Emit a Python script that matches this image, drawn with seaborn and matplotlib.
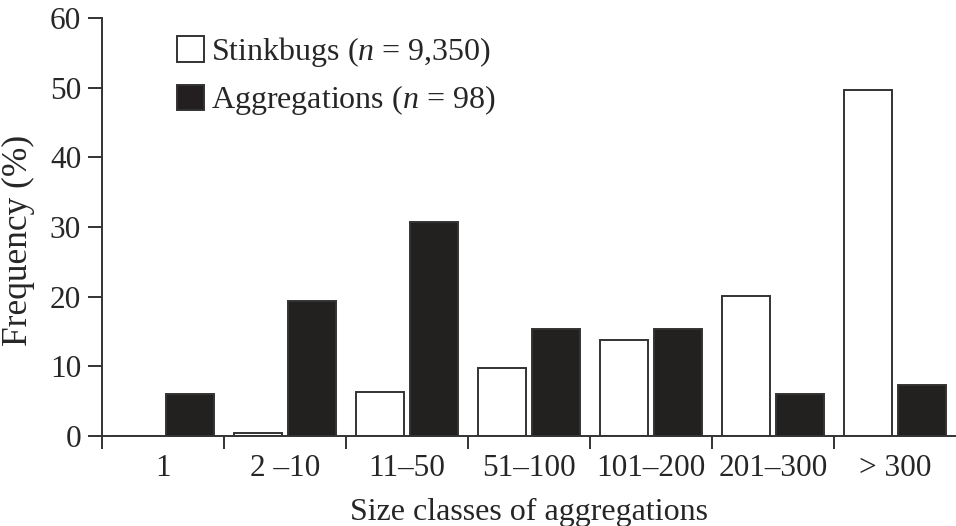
import matplotlib
matplotlib.use("Agg")
import matplotlib.pyplot as plt
import seaborn as sns
import pandas as pd
from matplotlib.patches import Patch
from matplotlib.ticker import FixedLocator

categories = ["1", "2 \u201310", "11\u201350", "51\u2013100", "101\u2013200", "201\u2013300", "> 300"]
stinkbugs = [0.0, 0.5, 6.3, 9.7, 13.8, 20.1, 49.6]
aggregations = [6.1, 19.4, 30.7, 15.3, 15.3, 6.1, 7.3]
series_names = ["Stinkbugs", "Aggregations"]
legend_labels = [r"Stinkbugs ($\mathit{n}$ = 9,350)", r"Aggregations ($\mathit{n}$ = 98)"]
y_ticks = [0, 10, 20, 30, 40, 50, 60]

sns.set_theme(style="white")
plt.rcParams["font.family"] = ["Liberation Serif", "DejaVu Serif"]
plt.rcParams["mathtext.fontset"] = "custom"
plt.rcParams["mathtext.rm"] = "Liberation Serif"
plt.rcParams["mathtext.it"] = "Liberation Serif:italic"

dark = "#231f20"
df = pd.DataFrame({
    "cat": categories * 2,
    "val": stinkbugs + aggregations,
    "series": [series_names[0]] * len(categories) + [series_names[1]] * len(categories),
})

fig = plt.figure(figsize=(9.56, 5.26), dpi=100)
ax = fig.add_axes([102 / 956, 1 - 436 / 526, 1 - 102 / 956, (436 - 18) / 526])

sns.barplot(data=df, x="cat", y="val", hue="series", order=categories,
            hue_order=series_names,
            palette={series_names[0]: "white", series_names[1]: dark},
            edgecolor="#333333", linewidth=1.4, width=0.88, gap=0.1,
            errorbar=None, ax=ax, legend=False)

ax.set_xlim(-0.5, 6.5)
ax.set_ylim(0, 60)
ax.set_yticks(y_ticks)
ax.set_yticklabels([str(t) for t in y_ticks])
ax.xaxis.set_minor_locator(FixedLocator([i - 0.5 for i in range(len(categories))]))

for s in ["top", "right"]:
    ax.spines[s].set_visible(False)
for s in ["left", "bottom"]:
    ax.spines[s].set_color("#333333")
    ax.spines[s].set_linewidth(1.4)

tfs = 22.5
ax.tick_params(axis="y", which="major", direction="out", length=10, width=1.4,
               color="#333333", labelsize=tfs, left=True, pad=5)
ax.tick_params(axis="x", which="major", length=0, labelsize=tfs, pad=13)
ax.tick_params(axis="x", which="minor", direction="out", length=9, width=1.4,
               color="#333333", bottom=True)

ax.set_xlabel("Size classes of aggregations", fontsize=23, labelpad=11)
ax.set_ylabel("Frequency (%)", fontsize=25.5)
ax.yaxis.set_label_coords(-0.079, 0.468)

handles = [Patch(facecolor="white", edgecolor="#333333", linewidth=1.4),
           Patch(facecolor=dark, edgecolor="#333333", linewidth=1.4)]
ax.legend(handles, legend_labels, loc="upper left", bbox_to_anchor=(0.073, 0.99),
          frameon=False, fontsize=23, handlelength=0.85, handleheight=0.85,
          handletextpad=0.2, labelspacing=0.45, borderaxespad=0)

fig.savefig("out.png", dpi=100)
